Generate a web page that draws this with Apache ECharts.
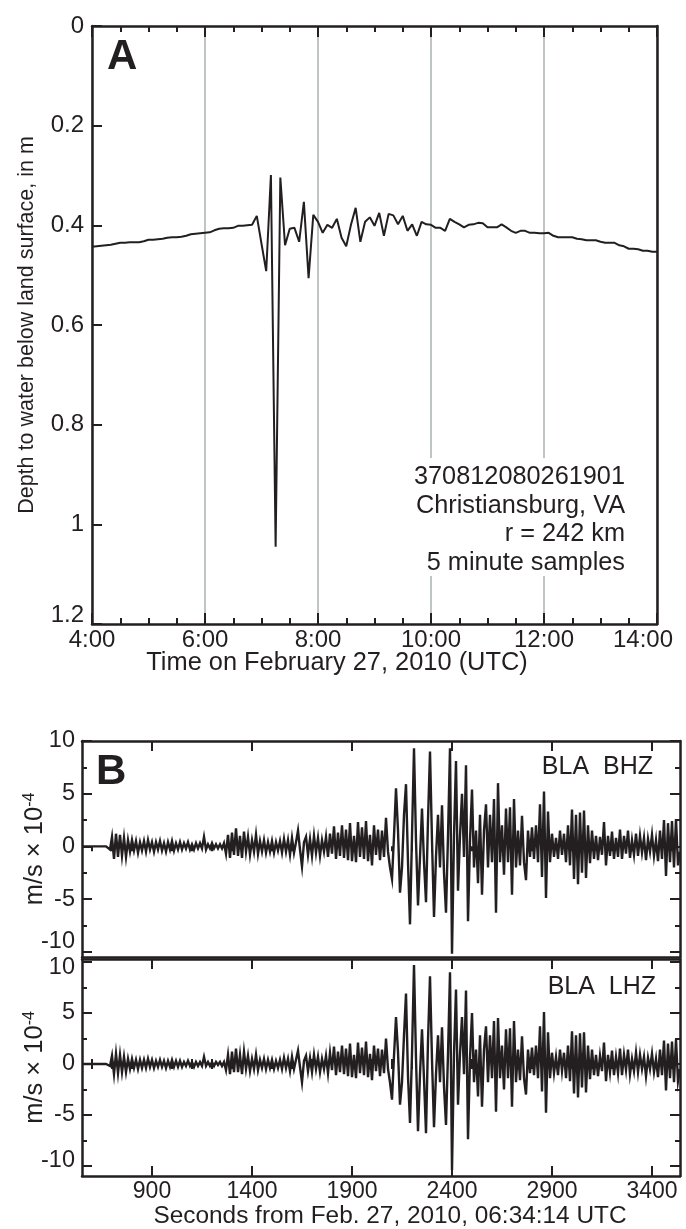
<!DOCTYPE html>
<html>
<head>
<meta charset="utf-8">
<script src="https://cdn.jsdelivr.net/npm/echarts@6/dist/echarts.min.js"></script>
<style>
  html, body { margin: 0; padding: 0; background: #fff; }
  #chart { width: 686px; height: 1229px; }
</style>
</head>
<body>
<div id="chart"></div>
<script>
// ---- Panel A: well 370812080261901, depth to water, 5-minute samples from 04:00 UTC ----
const depthStartHour = 4;
const depthStepMinutes = 5;
const depthToWater = [
  0.443, 0.442, 0.441, 0.440, 0.439, 0.437, 0.435, 0.435, 0.434, 0.434,
  0.434, 0.432, 0.429, 0.429, 0.428, 0.427, 0.425, 0.424, 0.424, 0.423,
  0.421, 0.418, 0.417, 0.416, 0.415, 0.414, 0.410, 0.407, 0.406, 0.406,
  0.405, 0.401, 0.401, 0.400, 0.399, 0.381, 0.437, 0.492, 0.299, 1.045,
  0.304, 0.440, 0.407, 0.405, 0.433, 0.353, 0.506, 0.379, 0.393, 0.415,
  0.399, 0.405, 0.387, 0.425, 0.442, 0.399, 0.365, 0.433, 0.393, 0.384,
  0.401, 0.375, 0.421, 0.377, 0.380, 0.398, 0.381, 0.411, 0.398, 0.421,
  0.393, 0.398, 0.399, 0.405, 0.405, 0.411, 0.387, 0.393, 0.398, 0.404,
  0.399, 0.398, 0.395, 0.396, 0.404, 0.404, 0.404, 0.398, 0.404, 0.411,
  0.415, 0.411, 0.411, 0.415, 0.415, 0.416, 0.416, 0.415, 0.421, 0.424,
  0.424, 0.424, 0.424, 0.427, 0.428, 0.430, 0.430, 0.430, 0.433, 0.435,
  0.435, 0.435, 0.440, 0.442, 0.447, 0.447, 0.448, 0.451, 0.451, 0.453,
  0.453
];
const hourTicks = [4, 6, 8, 10, 12, 14];
const depthTicks = [0, 0.2, 0.4, 0.6, 0.8, 1, 1.2];
const stationNote = ['370812080261901', 'Christiansburg, VA', 'r = 242 km', '5 minute samples'];

// ---- Panel B: station BLA vertical velocity (x 10^-4 m/s), every 10 s from 550 s ----
const traceStartSec = 550;
const traceStepSec = 10;
const bhzVelocity = [
  0, 0, 0, 0, 0, 0, 0, 0, 0, 0,
  0, 0, 0, 0.1, -0.3, 0.9, -1.2, 1.2, -1.0, 1.1,
  -0.9, 0.8, -1.0, 0.6, -0.5, 0.6, -0.4, 0.5, -0.6, 0.4,
  -0.4, 0.5, -0.5, 0.6, -0.3, 0.4, -0.5, 0.4, -0.3, 0.5,
  -0.4, 0.3, -0.5, 0.4, -0.3, 0.5, -0.4, 0.3, -0.3, 0.4,
  -0.3, 0.3, -0.2, 0.4, -0.3, 0.2, -0.3, 0.3, -0.2, 0.3,
  -0.2, 0.9, -0.3, 0.2, -0.2, 0.3, -0.2, 0.2, -0.2, 0.2,
  -0.2, 0.3, -0.7, 1.1, -1.1, 1.3, -0.8, 1.7, -0.9, 1.0,
  -1.1, 1.4, -0.5, 0.9, -0.8, 0.6, -0.5, 1.1, -0.7, 0.5,
  -0.5, 0.6, -0.6, 0.4, -0.5, 0.5, -0.6, 0.4, -0.4, 0.5,
  -0.6, 0.7, -0.5, 0.6, -0.8, 0.8, -0.6, 0.4, 1.5, -0.3,
  -1.9, 0.4, 0.9, -0.8, 0.7, -0.9, 1.0, -0.6, 0.8, -0.9,
  0.6, -0.5, 0.9, -1.0, 1.2, -0.7, 1.9, -1.2, 1.3, -0.9,
  2.0, -1.1, 1.6, -1.3, 2.2, -1.4, 1.0, -1.5, 2.3, -1.0,
  1.8, -1.2, 2.4, -1.4, 1.1, -1.8, 2.0, -0.8, 1.6, -1.3,
  1.5, -1.0, 2.7, -0.5, -2.0, -3.1, 1.0, 5.5, 1.5, -4.4,
  -2.0, 3.0, 5.9, -1.5, -7.4, 1.0, 9.3, 0.5, -5.6, -1.0,
  3.6, -1.5, -5.3, 2.5, 9.0, 0.5, -6.7, -1.0, 3.0, -2.0,
  3.9, -2.5, -6.3, 1.0, 9.3, -10.2, 1.0, 8.1, -4.2, 1.0,
  5.0, -1.0, 7.7, -7.1, 0.5, 5.4, -2.0, 1.5, -3.5, 3.0,
  -4.6, 1.5, 4.0, -2.0, 3.0, -1.5, 4.5, -6.3, 6.0, -1.5,
  2.0, -2.7, 3.6, -1.5, 3.7, -4.6, 4.5, -2.0, 1.5, -1.8,
  2.9, -1.5, -3.2, 1.5, -1.0, 1.8, -1.2, 2.0, -1.5, 4.0,
  -2.9, 5.2, -4.9, 3.3, -1.5, 1.2, -1.0, 0.8, -1.2, 1.5,
  -0.8, 1.2, -1.5, 2.0, -1.8, 3.5, -3.1, 3.0, -3.6, 3.2,
  -2.5, 3.4, -3.0, 2.0, -1.6, 1.5, -1.2, 1.0, -1.3, 0.9,
  -0.8, 2.3, -1.8, 1.0, -0.9, 1.4, -1.2, 0.8, -1.0, 1.6,
  -1.2, 1.0, -0.7, 1.5, -1.1, 0.6, -0.8, 1.2, -0.9, 1.0,
  -0.6, 0.8, -1.3, 0.7, -0.5, 1.1, -0.9, 0.6, -1.4, 1.5,
  -1.2, 2.5, -2.8, 2.2, -1.5, 2.4, -2.0, 2.6, -1.8, -0.5
];
const lhzVelocity = [
  0, 0, 0, 0, 0, 0, 0, 0, 0, 0,
  0, 0, 0, 0.1, -0.2, 0.8, -1.0, 1.0, -0.9, 0.9,
  -0.8, 0.7, -0.8, 0.5, -0.5, 0.5, -0.4, 0.4, -0.5, 0.4,
  -0.4, 0.4, -0.4, 0.5, -0.3, 0.4, -0.4, 0.3, -0.3, 0.4,
  -0.3, 0.3, -0.4, 0.3, -0.3, 0.4, -0.3, 0.3, -0.3, 0.3,
  -0.3, 0.2, -0.2, 0.3, -0.2, 0.2, -0.3, 0.2, -0.2, 0.2,
  -0.2, 0.7, -0.2, 0.2, -0.2, 0.2, -0.2, 0.2, -0.1, 0.2,
  -0.2, 0.2, -0.6, 0.9, -1.0, 1.2, -0.8, 1.5, -0.8, 0.9,
  -1.0, 1.2, -0.5, 0.8, -0.7, 0.5, -0.5, 0.9, -0.6, 0.4,
  -0.4, 0.5, -0.5, 0.4, -0.4, 0.4, -0.5, 0.3, -0.4, 0.4,
  -0.5, 0.6, -0.4, 0.5, -0.7, 0.7, -0.5, 0.4, 1.3, -0.3,
  -1.8, 0.3, 0.8, -0.7, 0.6, -0.8, 0.9, -0.5, 0.7, -0.8,
  0.5, -0.5, 0.8, -0.9, 1.1, -0.6, 1.7, -1.1, 1.2, -0.8,
  1.8, -1.0, 1.5, -1.2, 2.0, -1.3, 0.9, -1.4, 2.1, -0.9,
  1.6, -1.1, 2.2, -1.3, 1.0, -1.6, 1.8, -0.7, 1.5, -1.2,
  1.4, -0.9, 2.5, -0.5, -1.8, -3.5, 0.8, 4.6, 1.2, -4.0,
  -1.8, 2.8, 6.9, -1.2, -5.8, 1.0, 9.7, 0.5, -6.6, -1.0,
  3.4, -1.5, -6.8, 2.3, 8.6, 0.4, -6.2, -1.0, 2.8, -1.8,
  3.6, -2.2, -6.0, 1.0, 9.0, -10.4, 1.0, 7.3, -4.0, 1.0,
  4.6, -1.0, 7.2, -7.4, 0.5, 5.0, -1.8, 1.4, -3.2, 2.8,
  -4.2, 1.4, 3.7, -1.8, 2.8, -1.4, 4.2, -4.7, 4.5, -1.4,
  1.8, -2.5, 3.4, -1.4, 3.5, -4.2, 4.2, -1.8, 1.4, -1.6,
  2.7, -1.4, -3.0, 1.4, -0.9, 1.6, -1.1, 1.8, -1.4, 3.7,
  -2.7, 5.1, -4.8, 3.1, -1.4, 1.1, -0.9, 0.7, -1.1, 1.4,
  -0.7, 1.1, -1.4, 1.8, -1.7, 3.2, -2.9, 2.8, -3.3, 3.0,
  -2.3, 3.1, -2.8, 1.8, -1.5, 1.4, -1.1, 0.9, -1.2, 0.8,
  -0.7, 2.1, -1.7, 0.9, -0.8, 1.3, -1.1, 0.7, -0.9, 1.5,
  -1.1, 0.9, -0.6, 1.4, -1.0, 0.5, -0.7, 1.1, -0.8, 0.9,
  -0.5, 0.7, -1.2, 0.6, -0.5, 1.0, -0.8, 0.5, -1.3, 1.4,
  -1.1, 2.3, -2.6, 2.0, -1.4, 2.2, -1.8, 2.4, -1.7, -0.5
];
const secondsMajor = [900, 1400, 1900, 2400, 2900, 3400];
const secondsMinor = [600, 700, 800, 1000, 1100, 1200, 1300, 1500, 1600, 1700, 1800,
  2000, 2100, 2200, 2300, 2500, 2600, 2700, 2800, 3000, 3100, 3200, 3300, 3500];
const velocityMajor = [-10, -5, 0, 5, 10];
const velocityMinor = [-7.5, -2.5, 2.5, 7.5];

// ---- styling ----
const ink = '#231f20';
const gridGrey = '#bfc5c5';
const fontFamily = '"Liberation Sans", Arial, Helvetica, sans-serif';
const secRange = { min: 550, max: 3540 };

const depthSeries = depthToWater.map((v, i) => [depthStartHour + i * depthStepMinutes / 60, v]);
const bhzSeries = bhzVelocity.map((v, k) => [traceStartSec + k * traceStepSec, v]);
const lhzSeries = lhzVelocity.map((v, k) => [traceStartSec + k * traceStepSec, v]);

const axisLineStyle = { show: true, onZero: false, lineStyle: { color: ink, width: 2.5 } };
const noLine = { show: false };
const noLabel = { show: false };

function tickAxis(base, values, len, labelOpts) {
  return Object.assign({
    type: 'value',
    nameMoveOverlap: false,
    splitLine: { show: false },
    axisTick: { show: true, inside: true, length: len, customValues: values, lineStyle: { color: ink, width: 2 } },
    axisLabel: labelOpts || noLabel
  }, base);
}

const velFont = 23.5;
const velLabelTop = {
  show: true, customValues: velocityMajor, fontSize: velFont, color: ink, margin: 7, fontFamily,
  formatter: v => v === -10 ? '{up|-10}' : '{n|' + v + '}',
  rich: { n: { fontSize: velFont, color: ink, fontFamily }, up: { fontSize: velFont, color: ink, fontFamily, padding: [0, 0, 20, 0] } }
};
const velLabelBottom = {
  show: true, customValues: velocityMajor, fontSize: velFont, color: ink, margin: 7, fontFamily,
  formatter: v => v === 10 ? '{dn|10}' : (v === -10 ? '{up|-10}' : '{n|' + v + '}'),
  rich: {
    n: { fontSize: velFont, color: ink, fontFamily },
    dn: { fontSize: velFont, color: ink, fontFamily, padding: [10, 0, 0, 0] },
    up: { fontSize: velFont, color: ink, fontFamily, padding: [0, 0, 10, 0] }
  }
};
const velName = '{m|m/s × 10}{s|-4}';
const velNameStyle = {
  color: ink, fontFamily,
  rich: { m: { fontSize: 25.5, color: ink, fontFamily }, s: { fontSize: 16, color: ink, fontFamily, verticalAlign: 'top' } }
};

const option = {
  animation: false,
  backgroundColor: '#fff',
  textStyle: { fontFamily, color: ink },
  grid: [
    { left: 92, top: 26, width: 565, height: 598 },
    { left: 82, top: 741, width: 598, height: 216 },
    { left: 82, top: 959, width: 598, height: 217 }
  ],
  xAxis: [
    // Panel A, bottom: hour labels, grey hour lines
    {
      gridIndex: 0, type: 'value', min: 4, max: 14, interval: 2, position: 'bottom',
      nameMoveOverlap: false,
      axisLine: axisLineStyle,
      axisTick: { show: true, inside: true, length: 11, lineStyle: { color: ink, width: 2 } },
      minorTick: { show: true, splitNumber: 4, length: 6, lineStyle: { color: ink, width: 2 } },
      axisLabel: {
        fontSize: 24, color: ink, margin: 4, fontFamily,
        formatter: v => v === 14 ? '{end|14:00}' : '{n|' + v + ':00}',
        rich: { n: { fontSize: 24, color: ink, fontFamily }, end: { fontSize: 24, color: ink, fontFamily, padding: [0, 28, 0, 0] } }
      },
      splitLine: { show: true, lineStyle: { color: gridGrey, width: 2 } },
      name: 'Time on February 27, 2010 (UTC)', nameLocation: 'middle', nameGap: 26,
      nameTextStyle: { fontSize: 25.4, color: ink, fontFamily, padding: [0, 75, 0, 0] }
    },
    // Panel A, top frame
    {
      gridIndex: 0, type: 'value', min: 4, max: 14, interval: 2, position: 'top',
      axisLine: axisLineStyle,
      axisTick: { show: true, inside: true, length: 11, lineStyle: { color: ink, width: 2 } },
      minorTick: { show: true, splitNumber: 4, length: 6, lineStyle: { color: ink, width: 2 } },
      axisLabel: noLabel, splitLine: { show: false }
    },
    // Panel B upper plot
    tickAxis({ gridIndex: 1, position: 'bottom', axisLine: axisLineStyle, ...secRange }, [], 0),
    tickAxis({ gridIndex: 1, position: 'top', axisLine: axisLineStyle, ...secRange }, secondsMajor, 10),
    tickAxis({ gridIndex: 1, position: 'top', axisLine: noLine, ...secRange }, secondsMinor, 5),
    // Panel B lower plot
    tickAxis({ gridIndex: 2, position: 'top', axisLine: axisLineStyle, ...secRange }, secondsMajor, 10),
    tickAxis({ gridIndex: 2, position: 'top', axisLine: noLine, ...secRange }, secondsMinor, 5),
    tickAxis({
      gridIndex: 2, position: 'bottom', axisLine: axisLineStyle, ...secRange,
      name: 'Seconds from Feb. 27, 2010, 06:34:14 UTC', nameLocation: 'middle', nameGap: 28,
      nameTextStyle: { fontSize: 24.4, color: ink, fontFamily, padding: [0, 0, 0, 18] }
    }, secondsMajor, 10, {
      show: true, customValues: secondsMajor, fontSize: 23, color: ink, margin: 4, fontFamily,
      formatter: v => String(v)
    }),
    tickAxis({ gridIndex: 2, position: 'bottom', axisLine: noLine, ...secRange }, secondsMinor, 5)
  ],
  yAxis: [
    // Panel A depth, increasing downward
    {
      gridIndex: 0, type: 'value', inverse: true, min: 0, max: 1.2, interval: 0.2, position: 'left',
      nameMoveOverlap: false,
      axisLine: axisLineStyle,
      axisTick: { show: true, inside: true, length: 10, lineStyle: { color: ink, width: 2 } },
      axisLabel: {
        fontSize: 24, color: ink, margin: 8, fontFamily,
        formatter: v => Math.abs(v - 1.2) < 1e-9 ? '{up|1.2}' : '{n|' + (+v.toFixed(1)) + '}',
        rich: { n: { fontSize: 24, color: ink, fontFamily }, up: { fontSize: 24, color: ink, fontFamily, padding: [0, 0, 18, 0] } }
      },
      splitLine: { show: false },
      name: 'Depth to water below land surface, in m', nameLocation: 'middle', nameGap: 54,
      nameTextStyle: { fontSize: 21.5, color: ink, fontFamily }
    },
    {
      gridIndex: 0, type: 'value', inverse: true, min: 0, max: 1.2, interval: 0.2, position: 'right',
      axisLine: axisLineStyle, axisTick: { show: false }, axisLabel: noLabel, splitLine: { show: false }
    },
    // Panel B upper plot
    tickAxis({ gridIndex: 1, position: 'left', min: -10.5, max: 10, axisLine: axisLineStyle,
      name: velName, nameLocation: 'middle', nameGap: 34, nameTextStyle: velNameStyle }, velocityMajor, 10, velLabelTop),
    tickAxis({ gridIndex: 1, position: 'left', min: -10.5, max: 10, axisLine: noLine }, velocityMinor, 5),
    tickAxis({ gridIndex: 1, position: 'right', min: -10.5, max: 10, axisLine: axisLineStyle }, velocityMajor, 10),
    tickAxis({ gridIndex: 1, position: 'right', min: -10.5, max: 10, axisLine: noLine }, velocityMinor, 5),
    // Panel B lower plot
    tickAxis({ gridIndex: 2, position: 'left', min: -11, max: 10.3, axisLine: axisLineStyle,
      name: velName, nameLocation: 'middle', nameGap: 34, nameTextStyle: velNameStyle }, velocityMajor, 10, velLabelBottom),
    tickAxis({ gridIndex: 2, position: 'left', min: -11, max: 10.3, axisLine: noLine }, velocityMinor, 5),
    tickAxis({ gridIndex: 2, position: 'right', min: -11, max: 10.3, axisLine: axisLineStyle }, velocityMajor, 10),
    tickAxis({ gridIndex: 2, position: 'right', min: -11, max: 10.3, axisLine: noLine }, velocityMinor, 5)
  ],
  graphic: [
    // clears the hour lines behind the station note
    { type: 'rect', z: 50, silent: true, shape: { x: 407, y: 458, width: 224, height: 118 }, style: { fill: '#fff' } },
    ...stationNote.map((line, i) => ({
      type: 'text', z: 51, silent: true, x: 625, y: 477 + i * 28.7,
      style: { text: line, fill: ink, font: '25.3px ' + fontFamily, textAlign: 'right', textVerticalAlign: 'middle' }
    })),
    { type: 'text', z: 51, x: 107, y: 57, style: { text: 'A', fill: ink, font: 'bold 42px ' + fontFamily, textAlign: 'left', textVerticalAlign: 'middle' } },
    { type: 'text', z: 51, x: 96, y: 772, style: { text: 'B', fill: ink, font: 'bold 42px ' + fontFamily, textAlign: 'left', textVerticalAlign: 'middle' } },
    { type: 'text', z: 51, x: 653, y: 767, style: { text: 'BLA  BHZ', fill: ink, font: '25px ' + fontFamily, textAlign: 'right', textVerticalAlign: 'middle' } },
    { type: 'text', z: 51, x: 656, y: 987, style: { text: 'BLA  LHZ', fill: ink, font: '25px ' + fontFamily, textAlign: 'right', textVerticalAlign: 'middle' } }
  ],
  series: [
    {
      type: 'line', xAxisIndex: 0, yAxisIndex: 0, data: depthSeries,
      showSymbol: false, lineStyle: { color: ink, width: 2 }, z: 5
    },
    {
      type: 'line', xAxisIndex: 2, yAxisIndex: 2, data: bhzSeries, clip: true,
      showSymbol: false, lineStyle: { color: ink, width: 2.4, join: 'miter' }, z: 5
    },
    {
      type: 'line', xAxisIndex: 5, yAxisIndex: 6, data: lhzSeries, clip: true,
      showSymbol: false, lineStyle: { color: ink, width: 2.4, join: 'miter' }, z: 5
    }
  ]
};

const chart = echarts.init(document.getElementById('chart'), null, { renderer: 'canvas' });
chart.setOption(option);
</script>
</body>
</html>
